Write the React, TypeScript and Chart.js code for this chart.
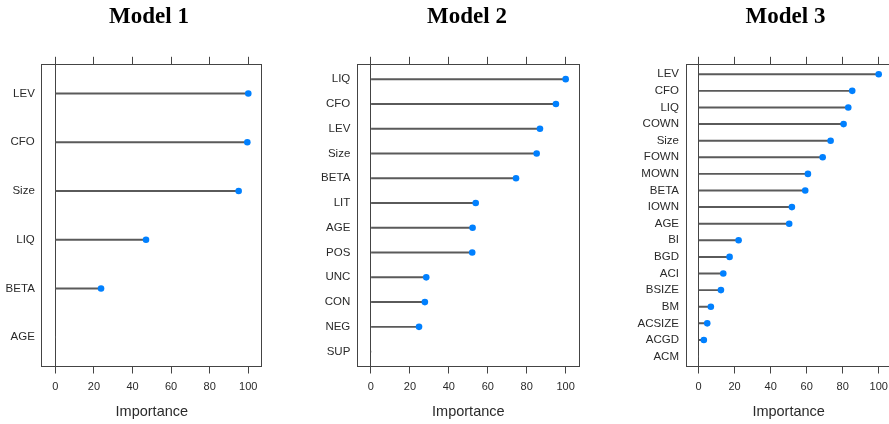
import React, { useEffect, useRef } from 'react';
import { Chart, registerables } from 'chart.js';
Chart.register(...registerables);

// ---- data ----
const xTicks = [0, 20, 40, 60, 80, 100];
const axisTitle = 'Importance';
const titles = ['Model 1', 'Model 2', 'Model 3'];

const model1Vars = ['LEV', 'CFO', 'Size', 'LIQ', 'BETA', 'AGE'];
const model1Imp = [100, 99.5, 95, 47, 23.7, 0];

const model2Vars = ['LIQ', 'CFO', 'LEV', 'Size', 'BETA', 'LIT', 'AGE', 'POS', 'UNC', 'CON', 'NEG', 'SUP'];
const model2Imp = [100, 95, 86.8, 85.1, 74.5, 53.8, 52.2, 52, 28.4, 27.7, 24.7, 0];

const model3Vars = ['LEV', 'CFO', 'LIQ', 'COWN', 'Size', 'FOWN', 'MOWN', 'BETA', 'IOWN', 'AGE', 'BI', 'BGD', 'ACI', 'BSIZE', 'BM', 'ACSIZE', 'ACGD', 'ACM'];
const model3Imp = [100, 85.3, 83.1, 80.5, 73.3, 68.9, 60.7, 59.2, 51.8, 50.3, 22.2, 17.2, 13.7, 12.4, 6.8, 4.8, 2.9, 0];

// ---- layout / style ----
const panels = [
  { left: 0, width: 298, axisW: 41.8, padR: 36.2 },
  { left: 300, width: 334, axisW: 57.3, padR: 54.7 },
  { left: 626, width: 319, axisW: 60, padR: 53.7 },
];
const LINE = '#444';
const SEG = '#5a5a5a';
const TEXT = '#2a2a2a';
const SANS = '"Liberation Sans", Arial, sans-serif';

function Panel({ title, vars, imp, box }: { title: string; vars: string[]; imp: number[]; box: any }) {
  const ref = useRef<HTMLCanvasElement>(null);
  useEffect(() => {
    const n = vars.length;
    const pts = imp.map((v, i) => ({ x: v, y: i }));
    const setXTicks = (s: any) => {
      s.ticks = xTicks.map((v) => ({ value: v }));
    };
    const chart = new Chart(ref.current as HTMLCanvasElement, {
      type: 'scatter',
      data: {
        datasets: [
          {
            type: 'bar',
            indexAxis: 'y',
            data: pts,
            backgroundColor: SEG,
            barThickness: 1.3,
            borderWidth: 0,
            xAxisID: 'x',
            yAxisID: 'y',
            order: 2,
          } as any,
          {
            type: 'scatter',
            data: pts,
            pointRadius: (ctx: any) => (imp[ctx.dataIndex] > 0 ? 3.3 : 0),
            pointBackgroundColor: '#0080ff',
            pointBorderWidth: 0,
            xAxisID: 'x',
            yAxisID: 'y',
            order: 1,
          } as any,
        ],
      },
      options: {
        responsive: false,
        animation: false,
        events: [],
        layout: { padding: 0 },
        plugins: {
          legend: { display: false },
          tooltip: { enabled: false },
          title: {
            display: true,
            text: title,
            color: '#000',
            font: { family: '"Liberation Serif", "Times New Roman", serif', size: 23, weight: 'bold' },
            padding: { top: 3.5, bottom: 25.7 },
          },
        },
        scales: {
          x: {
            type: 'linear',
            position: 'bottom',
            min: -7,
            max: 107,
            offset: false,
            afterBuildTicks: setXTicks,
            afterFit: (s: any) => {
              s.height = 57.5;
            },
            ticks: { color: TEXT, font: { family: SANS, size: 11 }, padding: 6.5, maxRotation: 0, autoSkip: false },
            grid: {
              offset: false,
              drawTicks: true,
              tickLength: 7,
              drawOnChartArea: true,
              lineWidth: 1,
              color: (c: any) => (c.tick && c.tick.value === 0 ? LINE : 'rgba(0,0,0,0)'),
              tickColor: LINE,
            },
            border: { display: true, color: LINE, width: 1 },
            title: {
              display: true,
              text: axisTitle,
              color: TEXT,
              font: { family: SANS, size: 14.5 },
              padding: { top: 0, bottom: 3.6 },
            },
          } as any,
          x2: {
            type: 'linear',
            position: 'top',
            min: -7,
            max: 107,
            offset: false,
            afterBuildTicks: setXTicks,
            afterFit: (s: any) => {
              s.height = 7.5;
            },
            ticks: { display: false },
            grid: { offset: false, drawTicks: true, tickLength: 7.5, drawOnChartArea: false, color: LINE, tickColor: LINE },
            border: { display: true, color: LINE, width: 1 },
          } as any,
          y: {
            type: 'linear',
            position: 'left',
            reverse: true,
            min: -0.6,
            max: n - 0.4,
            offset: false,
            afterBuildTicks: (s: any) => {
              s.ticks = vars.map((_, i) => ({ value: i }));
            },
            afterFit: (s: any) => {
              s.width = box.axisW;
            },
            ticks: {
              autoSkip: false,
              padding: 7,
              color: TEXT,
              font: { family: SANS, size: 11.5 },
              callback: (v: any) => vars[v as number],
            },
            grid: { offset: false, drawTicks: false, drawOnChartArea: false, color: 'rgba(0,0,0,0)' },
            border: { display: true, color: LINE, width: 1 },
          } as any,
          y2: {
            type: 'linear',
            position: 'right',
            min: 0,
            max: 1,
            offset: false,
            afterFit: (s: any) => {
              s.width = box.padR;
            },
            ticks: { display: false },
            grid: { offset: false, drawTicks: false, drawOnChartArea: false, color: 'rgba(0,0,0,0)' },
            border: { display: true, color: LINE, width: 1 },
          } as any,
        },
      } as any,
    });
    return () => chart.destroy();
  }, []);
  return (
    <canvas
      ref={ref}
      width={box.width}
      height={424}
      style={{ position: 'absolute', left: box.left, top: 0, width: box.width, height: 424 }}
    />
  );
}

export default function App() {
  const vars = [model1Vars, model2Vars, model3Vars];
  const imps = [model1Imp, model2Imp, model3Imp];
  return (
    <div style={{ position: 'absolute', left: 0, top: 0, width: 889, height: 424, overflow: 'hidden', background: '#fff' }}>
      {titles.map((t, i) => (
        <Panel key={t} title={t} vars={vars[i]} imp={imps[i]} box={panels[i]} />
      ))}
    </div>
  );
}
